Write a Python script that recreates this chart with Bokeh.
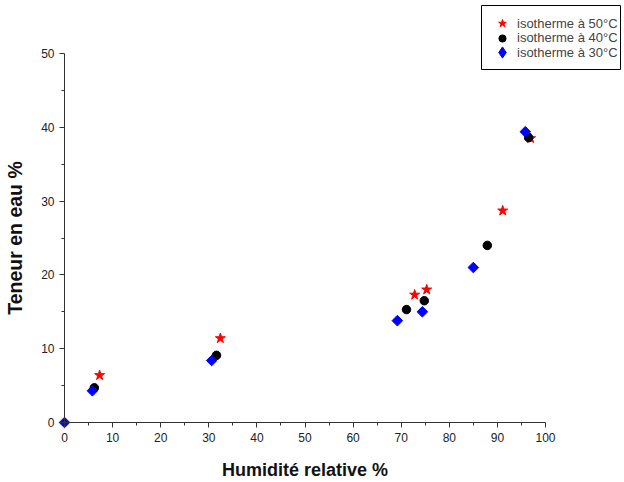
from bokeh.plotting import figure
from bokeh.models import Range1d, FixedTicker, Legend, LegendItem, BoxAnnotation
from bokeh.embed import file_html
from bokeh.resources import INLINE

# Data
x50 = [7.3, 32.4, 72.8, 75.3, 91.1, 96.9]
y50 = [6.4, 11.4, 17.3, 18.0, 28.7, 38.5]
x40 = [6.2, 31.6, 71.1, 74.8, 87.9, 96.5]
y40 = [4.7, 9.1, 15.3, 16.5, 24.0, 38.6]
x30 = [0.0, 5.8, 30.6, 69.2, 74.4, 85.0, 95.8]
y30 = [0.0, 4.3, 8.4, 13.8, 15.0, 21.0, 39.4]
labels = ["isotherme à 50°C", "isotherme à 40°C", "isotherme à 30°C"]
x_ticks = [0, 10, 20, 30, 40, 50, 60, 70, 80, 90, 100]
y_ticks = [0, 10, 20, 30, 40, 50]

W, H = 624, 482
# pixel placement of the data area inside the figure
left, right, top, bottom = 64, 545, 53, 422
xs = (right - left) / 100.0
ys = (bottom - top) / 50.0

p = figure(width=W, height=H, output_backend="svg", toolbar_location=None,
           x_range=Range1d(-left / xs, (W - left) / xs),
           y_range=Range1d(-(H - bottom) / ys, 50 + top / ys),
           min_border=0, min_border_left=0, min_border_right=0,
           min_border_top=0, min_border_bottom=0)
p.outline_line_color = None
p.xgrid.visible = False
p.ygrid.visible = False

r50 = p.scatter(x50, y50, marker="star", size=10.5, color="red")
r40 = p.scatter(x40, y40, marker="circle", size=8.5, color="black")
r30 = p.scatter(x30, y30, marker="square", size=7.5, angle=0.785398, color="blue")
# size-0 copy used only to give the legend a diamond glyph
r30_leg = p.scatter(x30[:1], y30[:1], marker="diamond", size=0, color="blue")

for ax, ticks, minor, bnds in ((p.xaxis[0], x_ticks, [v + 5 for v in x_ticks[:-1]], (0, 100)),
                               (p.yaxis[0], y_ticks, [v + 5 for v in y_ticks[:-1]], (0, 50))):
    ax.ticker = FixedTicker(ticks=ticks, minor_ticks=minor)
    ax.fixed_location = 0
    ax.bounds = bnds
    ax.major_tick_in = 0
    ax.major_tick_out = 5
    ax.minor_tick_in = 0
    ax.minor_tick_out = 3
    ax.axis_line_color = "#333333"
    ax.major_tick_line_color = "#333333"
    ax.minor_tick_line_color = "#333333"
    ax.major_label_text_font = "Liberation Sans"
    ax.major_label_text_font_size = "12px"
    ax.major_label_text_color = "#222222"
    ax.axis_label_text_font = "Liberation Sans"
    ax.axis_label_text_font_style = "bold"
    ax.axis_label_text_color = "#111111"

p.xaxis.axis_label = "Humidité relative %"
p.yaxis.axis_label = "Teneur en eau %"
p.xaxis.axis_label_text_font_size = "18px"
p.yaxis.axis_label_text_font_size = "19.5px"
p.xaxis.axis_label_standoff = 15
p.yaxis.axis_label_standoff = 12

# legend frame
box = BoxAnnotation(left=481, right=620, top=5, bottom=69,
                    left_units="canvas", right_units="canvas",
                    top_units="canvas", bottom_units="canvas",
                    fill_color="white", fill_alpha=1.0,
                    line_color="black", line_width=1, line_alpha=1.0)
p.add_layout(box)

# (renderer, glyph box height, offset from the bottom of the frame)
rows = [(r50, 20, 449), (r40, 18, 435.5), (r30_leg, 28, 416)]
for lab, (rend, gh, vy) in zip(labels, rows):
    lg = Legend(items=[LegendItem(label=lab, renderers=[rend])], location=(487, vy))
    lg.border_line_color = None
    lg.background_fill_alpha = 0
    lg.label_text_font = "Liberation Sans"
    lg.label_text_font_size = "13px"
    lg.label_height = gh
    lg.glyph_height = gh
    lg.glyph_width = 30
    lg.spacing = 0
    lg.padding = 0
    lg.margin = 0
    lg.label_standoff = 0
    p.add_layout(lg, "center")

open("out.html", "w").write(file_html(p, INLINE))
